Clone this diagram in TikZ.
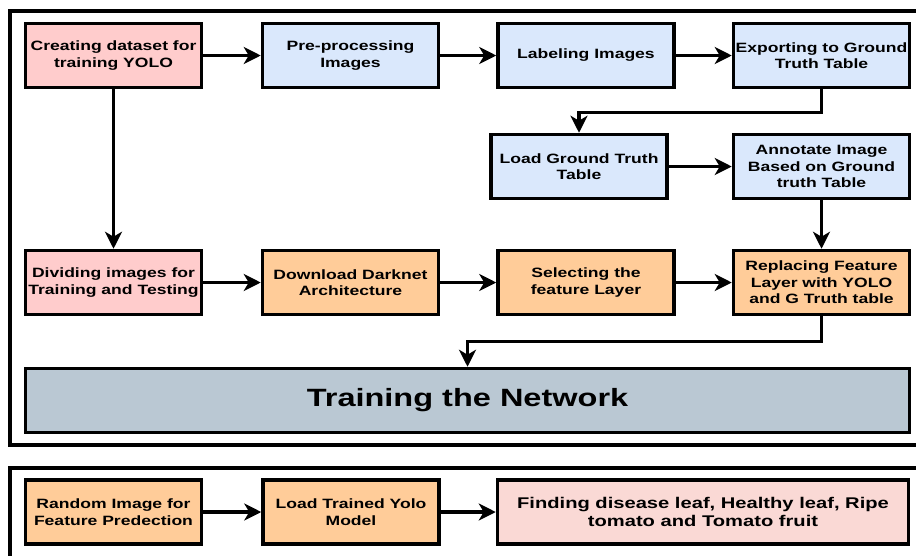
\documentclass[tikz,border=0pt]{standalone}
\usepackage{fontspec}
\setmainfont{Liberation Sans}[FakeStretch=1.3]
\usetikzlibrary{arrows.meta}

\definecolor{pinkbox}{HTML}{FFCCCC}
\definecolor{bluebox}{HTML}{DAE8FC}
\definecolor{orangebox}{HTML}{FFCC99}
\definecolor{graybox}{HTML}{BAC8D3}
\definecolor{rosebox}{HTML}{FAD9D5}

\begin{document}
\begin{tikzpicture}[x=1pt, y=-1pt,
		box/.style={draw, line width=3.5pt, minimum width=176pt, minimum height=64pt,
				inner sep=1pt, align=center, font=\bfseries\fontsize{13.5}{16.5}\selectfont},
		arr/.style={line width=3.5pt, -{Stealth[length=17pt, width=17pt, inset=5pt]}},
		frame/.style={line width=3.5pt}]
		\useasboundingbox (0, 0) rectangle (916, 555);
		\clip (0, 0) rectangle (916, 555);

		% two frames
		\draw[frame] (930, 11) -- (10, 11) -- (10, 445) -- (930, 445);
		\draw[frame] (930, 468) -- (10, 468) -- (10, 565);

		\node[box, fill=pinkbox] (create) at (113.5, 55.5) {Creating dataset for\\training YOLO};
		\node[box, fill=bluebox] (preproc) at (350.5, 55.5) {Pre-processing\\Images};
		\node[box, fill=bluebox] (label) at (586, 55.5) {Labeling Images};
		\node[box, fill=bluebox] (export) at (821.5, 55.5) {Exporting to Ground\\Truth Table};

		\node[box, fill=bluebox] (loadgt) at (579, 166.5) {Load Ground Truth\\Table};
		\node[box, fill=bluebox] (annot) at (821.5, 166.5) {Annotate Image\\Based on Ground\\truth Table};

		\node[box, fill=pinkbox] (divide) at (113.5, 282.5) {Dividing images for\\Training and Testing};
		\node[box, fill=orangebox] (darknet) at (350.5, 282.5) {Download Darknet\\Architecture};
		\node[box, fill=orangebox] (select) at (586, 282.5) {Selecting the\\feature Layer};
		\node[box, fill=orangebox] (replace) at (821.5, 282.5) {Replacing Feature\\Layer with YOLO\\and G Truth table};

		\node[box, fill=graybox, minimum width=884pt, font=\bfseries\fontsize{25}{30}\selectfont]
			(train) at (467.5, 400.5) {Training the Network};

		\node[box, fill=orangebox] (random) at (113.5, 512) {Random Image for\\Feature Predection};
		\node[box, fill=orangebox] (loadyolo) at (351, 512) {Load Trained Yolo\\Model};
		\node[box, fill=rosebox, minimum width=411pt, font=\bfseries\fontsize{15.5}{18}\selectfont]
			(finding) at (703, 512) {Finding disease leaf, Healthy leaf, Ripe\\tomato and Tomato fruit};

		\draw[arr] (create) -- (preproc);
		\draw[arr] (preproc) -- (label);
		\draw[arr] (label) -- (export);
		\draw[arr] (export.south) -- ++(0, 23) -| (loadgt.north);
		\draw[arr] (loadgt) -- (annot);
		\draw[arr] (annot) -- (replace);
		\draw[arr] (create) -- (divide);
		\draw[arr] (divide) -- (darknet);
		\draw[arr] (darknet) -- (select);
		\draw[arr] (select) -- (replace);
		\draw[arr] (replace.south) -- ++(0, 25) -| (train.north);

		\draw[arr] (random) -- (loadyolo);
		\draw[arr] (loadyolo) -- (finding);
	\end{tikzpicture}
\end{document}
